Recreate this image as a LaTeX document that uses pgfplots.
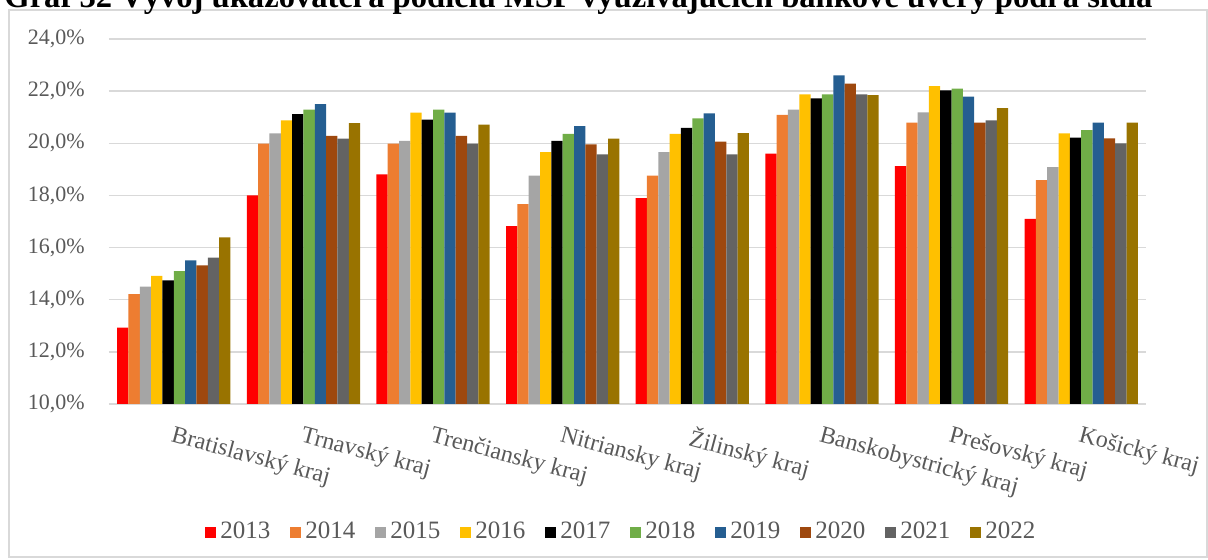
\documentclass[border=0pt]{standalone}
\usepackage{fontspec}
\setmainfont{Liberation Serif}
\usepackage{pgfplots}
\pgfplotsset{compat=1.18}

\definecolor{c13}{HTML}{FF0000}
\definecolor{c14}{HTML}{ED7D31}
\definecolor{c15}{HTML}{A5A5A5}
\definecolor{c16}{HTML}{FFC000}
\definecolor{c17}{HTML}{000000}
\definecolor{c18}{HTML}{70AD47}
\definecolor{c19}{HTML}{255E91}
\definecolor{c20}{HTML}{9E480E}
\definecolor{c21}{HTML}{636363}
\definecolor{c22}{HTML}{997300}
\definecolor{gridgray}{HTML}{D9D9D9}
\definecolor{labelgray}{HTML}{595959}

\begin{document}
\begin{tikzpicture}[x=1pt,y=1pt]
\useasboundingbox (0,0) rectangle (604,280);
\draw[gridgray, line width=0.6pt] (4.5,1.5) rectangle (603.5,275);
% title is cut by the top edge, as in the source picture
\node[anchor=base west, inner sep=0pt, font=\fontsize{16.3}{18}\selectfont\bfseries] at (2,276)
  {Graf 32 Vývoj ukazovateľa podielu MSP využívajúcich bankové úvery podľa sídla};
\begin{axis}[at={(54.5pt,78pt)}, anchor=south west,
  width=518.5pt, height=182.5pt, scale only axis,
  ybar=0pt, bar width=0.0874,
  xmin=-0.5, xmax=7.5, ymin=10, ymax=24,
  xtick={0,...,7},
  xticklabels={Bratislavský kraj, Trnavský kraj, Trenčiansky kraj, Nitriansky kraj, Žilinský kraj, Banskobystrický kraj, Prešovský kraj, Košický kraj},
  xticklabel style={rotate=-15, anchor=north west, inner sep=0pt, xshift=3pt, yshift=-10pt, font=\fontsize{12}{14}\selectfont, text=labelgray},
  ytick={10,12,...,24},
  yticklabels={{10,0\%},{12,0\%},{14,0\%},{16,0\%},{18,0\%},{20,0\%},{22,0\%},{24,0\%}},
  yticklabel style={anchor=east, inner sep=0pt, xshift=-12pt, font=\fontsize{11}{13}\selectfont, text=labelgray},
  ymajorgrids, grid style={gridgray, line width=0.75pt},
  axis x line*=bottom, axis y line*=left,
  x axis line style={gridgray, line width=1pt, -},
  y axis line style={draw=none},
  major tick length=0pt, tick style={draw=none},
  legend columns=10,
  legend style={draw=none, at={(0.495,-0.351)}, anchor=center,
    font=\fontsize{12.5}{14}\selectfont, text=labelgray,
    /tikz/every even column/.append style={column sep=8pt}},
  every axis plot post/.append style={draw=none,
    legend image code/.code={\fill[##1] (0pt,-2.75pt) rectangle (5.5pt,2.75pt);}},
]
\addplot[fill=c13] coordinates {(0,12.93) (1,18.00) (2,18.81) (3,16.82) (4,17.90) (5,19.60) (6,19.12) (7,17.10)};
\addplot[fill=c14] coordinates {(0,14.21) (1,19.99) (2,19.99) (3,17.67) (4,18.76) (5,21.09) (6,20.79) (7,18.59)};
\addplot[fill=c15] coordinates {(0,14.50) (1,20.38) (2,20.09) (3,18.76) (4,19.66) (5,21.29) (6,21.19) (7,19.09)};
\addplot[fill=c16] coordinates {(0,14.91) (1,20.88) (2,21.18) (3,19.66) (4,20.36) (5,21.88) (6,22.19) (7,20.38)};
\addplot[fill=c17] coordinates {(0,14.74) (1,21.12) (2,20.91) (3,20.09) (4,20.59) (5,21.72) (6,22.03) (7,20.22)};
\addplot[fill=c18] coordinates {(0,15.10) (1,21.29) (2,21.29) (3,20.36) (4,20.96) (5,21.88) (6,22.10) (7,20.50)};
\addplot[fill=c19] coordinates {(0,15.51) (1,21.50) (2,21.18) (3,20.66) (4,21.15) (5,22.60) (6,21.79) (7,20.79)};
\addplot[fill=c20] coordinates {(0,15.32) (1,20.28) (2,20.28) (3,19.96) (4,20.06) (5,22.29) (6,20.79) (7,20.19)};
\addplot[fill=c21] coordinates {(0,15.61) (1,20.18) (2,19.99) (3,19.57) (4,19.57) (5,21.88) (6,20.88) (7,20.00)};
\addplot[fill=c22] coordinates {(0,16.39) (1,20.77) (2,20.72) (3,20.18) (4,20.39) (5,21.85) (6,21.35) (7,20.79)};
\legend{2013,2014,2015,2016,2017,2018,2019,2020,2021,2022}
\end{axis}
\end{tikzpicture}
\end{document}
